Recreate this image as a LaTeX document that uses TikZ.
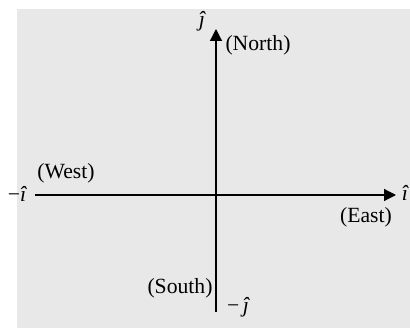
\documentclass[tikz,border=0pt]{standalone}
\usepackage{fontspec}
\setmainfont{Liberation Serif}
\usetikzlibrary{arrows.meta}

\begin{document}
\begin{tikzpicture}[x=0.025cm, y=-0.025cm,
    every node/.style={inner sep=0pt, font=\fontsize{15.4}{18}\selectfont},
    axis/.style={line width=0.85pt, -{Triangle[length=8.5pt, width=8.5pt]}}]
    \useasboundingbox (0,0) rectangle (410,328);
    \fill[gray!18] (17,9) rectangle (410,328);
    % axes
    \coordinate (O) at (216,195);
    \coordinate (W) at (35,195);
    \coordinate (E) at (396,195);
    \coordinate (S) at (216,312);
    \coordinate (N) at (216,29);
    \draw[axis] (W) -- (E);
    \draw[axis] (S) -- (N);
    % labels
    \node (jhat) at (202,21) {\itshape ĵ};
    \node (north) at (258,45) {(North)};
    \node (mihat) at (17,194) {−\itshape î};
    \node (west) at (66,173) {(West)};
    \node (ihat) at (405,193) {\itshape î};
    \node (east) at (366,217) {(East)};
    \node (south) at (180,288) {(South)};
    \node (mjhat) at (238,307) {−\,\itshape ĵ};
\end{tikzpicture}
\end{document}
